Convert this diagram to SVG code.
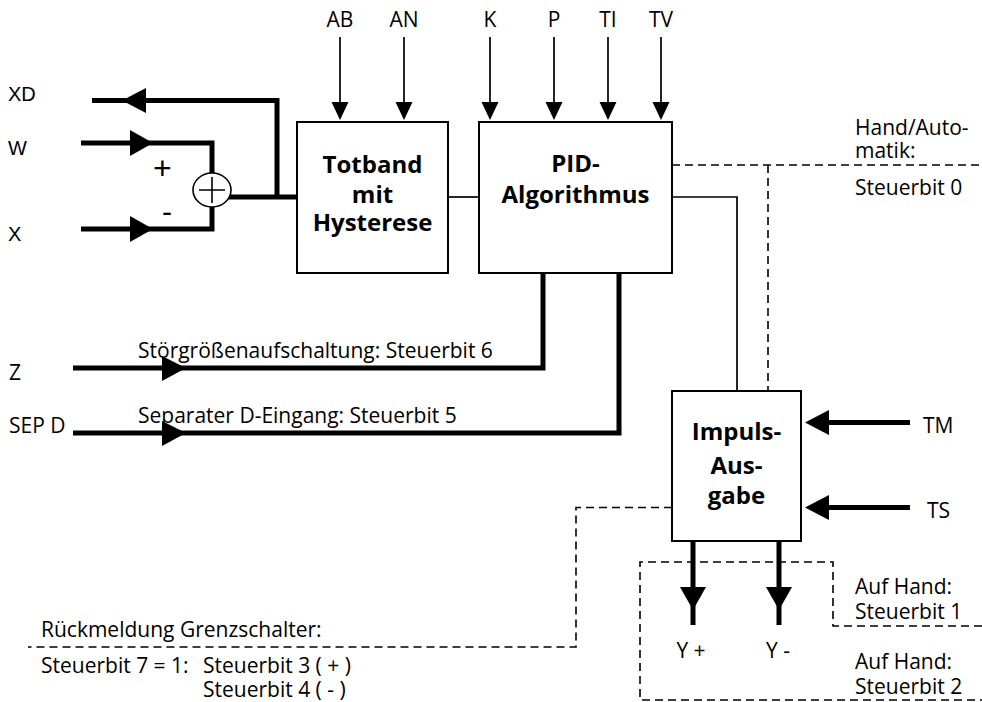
<svg xmlns="http://www.w3.org/2000/svg" width="982" height="702" viewBox="0 0 982 702">
  <style>
    .t{font-family:"Open Sans","Noto Sans",sans-serif;font-size:21px;fill:#000}
    .a{font-family:"Liberation Sans",Arial,sans-serif;font-size:20px;fill:#000}
    .b{font-family:"Open Sans","Noto Sans",sans-serif;font-weight:bold;font-size:24px;text-anchor:middle;fill:#000}
    .m{text-anchor:middle}
    .box{fill:#fff;stroke:#000;stroke-width:2}
    .thin{fill:none;stroke:#000;stroke-width:1.7}
    .thick{fill:none;stroke:#000;stroke-width:5}
    .dash{fill:none;stroke:#000;stroke-width:1.6;stroke-dasharray:8 5}
    .head{fill:#000}
  </style>

  <!-- connectors -->
  <g id="connectors">
    <!-- dashed control-bit lines -->
    <path class="dash" d="M672,165 H982 M768,165 V391"/>
    <path class="dash" d="M672,507.5 H576 V647 H28"/>
    <path class="dash" d="M982,626 H833 V562 H640 V700 H982"/>

    <!-- XD feedback output -->
    <path class="thick" d="M92,100.5 H277 V197"/>
    <polygon class="head" points="122,100.5 146,88 146,113"/>
    <!-- W and X inputs to summing point -->
    <path class="thick" d="M81,143 H212 V173"/>
    <polygon class="head" points="153,143 130,130 130,156"/>
    <path class="thick" d="M81,229 H212 V207"/>
    <polygon class="head" points="153,229 130,216 130,242"/>
    <path class="thick" d="M229,197 H297"/>

    <!-- Totband -> PID -> Impuls -->
    <path class="thin" d="M448,197 H479"/>
    <path class="thin" d="M672,197 H737 V391"/>

    <!-- parameter inputs from above -->
    <g class="thin">
      <path d="M340,37 V103 M404,37 V103 M490,37 V103 M554,37 V103 M608,37 V103 M661,37 V103"/>
    </g>
    <polygon class="head" points="331.5,102 348.5,102 340,120"/>
    <polygon class="head" points="395.5,102 412.5,102 404,120"/>
    <polygon class="head" points="481.5,102 498.5,102 490,120"/>
    <polygon class="head" points="545.5,102 562.5,102 554,120"/>
    <polygon class="head" points="599.5,102 616.5,102 608,120"/>
    <polygon class="head" points="652.5,102 669.5,102 661,120"/>

    <!-- Z and SEP D inputs -->
    <path class="thick" d="M73,368 H543 V273"/>
    <polygon class="head" points="186,368 162,356 162,381"/>
    <path class="thick" d="M73,433 H619 V273"/>
    <polygon class="head" points="186,433 162,421 162,446"/>

    <!-- TM and TS inputs -->
    <path class="thick" d="M910,422.5 H828"/>
    <polygon class="head" points="805,422.5 829,410 829,435"/>
    <path class="thick" d="M910,507.5 H828"/>
    <polygon class="head" points="805,507.5 829,495 829,520"/>

    <!-- Y outputs -->
    <path class="thick" d="M693,541 V625 M779,541 V625"/>
    <polygon class="head" points="680,587 706,587 693,610"/>
    <polygon class="head" points="766,587 792,587 779,610"/>
  </g>

  <!-- summing point -->
  <g id="summing">
    <ellipse cx="212" cy="190" rx="19" ry="17" fill="#fff" stroke="#000" stroke-width="1.6"/>
    <path d="M199,190 H225 M212,177 V203" stroke="#000" stroke-width="1.6"/>
    <text class="a" x="153" y="179" style="font-size:32px">+</text>
    <text class="a" x="162" y="222" style="font-size:30px">-</text>
  </g>

  <g id="totband">
    <rect class="box" x="297" y="122" width="151" height="151"/>
    <text class="b" x="372.5" y="173">Totband</text>
    <text class="b" x="372.5" y="203">mit</text>
    <text class="b" x="372.5" y="231">Hysterese</text>
  </g>

  <g id="pid">
    <rect class="box" x="479" y="122" width="193" height="151"/>
    <text class="b" x="575.5" y="172">PID-</text>
    <text class="b" x="575.5" y="203">Algorithmus</text>
  </g>

  <g id="impuls">
    <rect class="box" x="672" y="391" width="129" height="150"/>
    <text class="b" x="736.5" y="440">Impuls-</text>
    <text class="b" x="736.5" y="474">Aus-</text>
    <text class="b" x="736.5" y="504">gabe</text>
  </g>

  <!-- signal labels -->
  <g id="labels">
    <text class="a" x="8" y="101">XD</text>
    <text class="a" x="8" y="155">W</text>
    <text class="a" x="8" y="241">X</text>

    <text class="t m" x="340" y="27">AB</text>
    <text class="t m" x="404" y="27">AN</text>
    <text class="t m" x="490" y="27">K</text>
    <text class="t m" x="554" y="27">P</text>
    <text class="t m" x="608" y="27">TI</text>
    <text class="t m" x="661" y="27">TV</text>

    <text class="t" x="855" y="135">Hand/Auto-</text>
    <text class="t" x="855" y="158">matik:</text>
    <text class="t" x="855" y="195">Steuerbit 0</text>

    <text class="t" x="9" y="380">Z</text>
    <text class="t" x="138" y="358">Störgrößenaufschaltung: Steuerbit 6</text>
    <text class="t" x="9" y="433">SEP D</text>
    <text class="t" x="138" y="423">Separater D-Eingang: Steuerbit 5</text>

    <text class="t" x="923" y="433">TM</text>
    <text class="t" x="927" y="518">TS</text>

    <text class="t m" x="691" y="658">Y +</text>
    <text class="t m" x="778" y="658">Y -</text>

    <text class="t" x="855" y="594">Auf Hand:</text>
    <text class="t" x="855" y="619">Steuerbit 1</text>
    <text class="t" x="855" y="669">Auf Hand:</text>
    <text class="t" x="855" y="694">Steuerbit 2</text>

    <text class="t" x="41" y="637">Rückmeldung Grenzschalter:</text>
    <text class="t" x="41" y="673">Steuerbit 7 = 1:</text>
    <text class="t" x="203" y="673">Steuerbit 3 ( + )</text>
    <text class="t" x="203" y="697">Steuerbit 4 ( - )</text>
  </g>
</svg>
